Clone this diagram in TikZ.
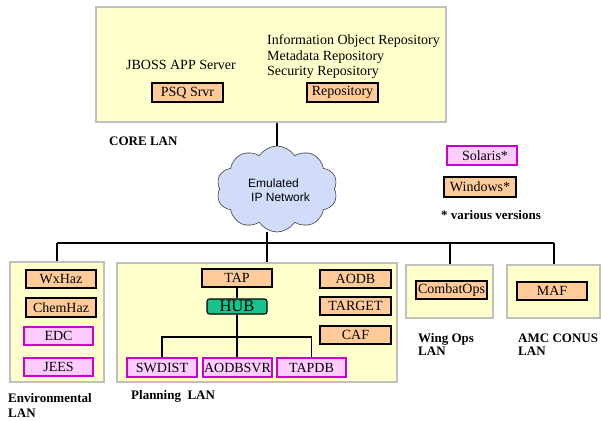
\documentclass[tikz,border=0pt]{standalone}
\usepackage{fontspec}
\setmainfont{Liberation Serif}
\newfontfamily\cloudfont{Liberation Sans}
\usetikzlibrary{shapes.symbols}
\definecolor{lanfill}{HTML}{FFFFCC}
\definecolor{lanedge}{HTML}{C0C0C0}
\definecolor{winfill}{HTML}{FFCC99}
\definecolor{solfill}{HTML}{FFCCFF}
\definecolor{soledge}{HTML}{CC00CC}
\definecolor{hubfill}{HTML}{14C38E}
\definecolor{cloudfill}{HTML}{D0DCFA}
\begin{document}
\begin{tikzpicture}[x=1pt,y=-1pt,
  lanbox/.style={draw=lanedge, fill=lanfill, line width=1.6pt, inner sep=0pt},
  winbox/.style={draw=black, fill=winfill, line width=1.1pt, inner sep=0pt, font=\fontsize{14}{16}\selectfont},
  solbox/.style={draw=soledge, fill=solfill, line width=1.1pt, inner sep=0pt, font=\fontsize{14}{16}\selectfont},
  hubbox/.style={draw=black, fill=hubfill, line width=1.1pt, rounded corners=2.5pt, inner sep=0pt, font=\fontsize{16.5}{18}\selectfont},
  lbl/.style={inner sep=0pt, font=\fontsize{14}{15.5}\selectfont},
  blbl/.style={inner sep=0pt, align=left, anchor=west, font=\bfseries\fontsize{13}{15}\selectfont},
  wire/.style={draw=black, line width=1.4pt}]
\useasboundingbox (0,0) rectangle (601,420);

% CORE LAN
\node[lanbox, minimum width=350pt, minimum height=115pt] (core) at (271,64.5) {};
\node[lbl] (jboss) at (181,65) {JBOSS APP Server};
\node[winbox, minimum width=71pt, minimum height=19pt] (psq) at (187.5,92.5) {PSQ Srvr};
\node[lbl, anchor=west, align=left] (info) at (267,57) {Information Object Repository\\Metadata Repository\\Security Repository};
\node[winbox, minimum width=71pt, minimum height=19pt] (repo) at (342.5,92.5) {Repository};
\node[blbl] (corelan) at (109,141) {CORE LAN};

% cloud
\node[cloud, cloud puffs=10, cloud puff arc=115, aspect=1.4, draw=black!75, fill=cloudfill,
      minimum width=121pt, minimum height=86pt, line width=0.6pt] (net) at (277,189) {};
\node[inner sep=0pt, anchor=west, align=left, font=\cloudfont\fontsize{12}{14}\selectfont] (nettext) at (248,190) {Emulated\\\hspace{3pt}IP Network};
\draw[wire] (net.north |- core.south) -- (net.north);

% legend
\node[solbox, minimum width=70pt, minimum height=19pt] (sol) at (482,155.5) {\hspace{6pt}Solaris*};
\node[winbox, minimum width=72pt, minimum height=20pt] (win) at (480,187) {Windows*};
\node[blbl] (various) at (441,215) {* various versions};

% bus
\coordinate (bus) at (267,243);
\coordinate (bl) at (57,243);
\coordinate (bw) at (450,243);
\coordinate (br) at (554,243);
\draw[wire] (bus |- net.south) -- (bus);
\draw[wire] (bl) -- (br);

% Environmental LAN
\node[lanbox, minimum width=94pt, minimum height=120pt] (env) at (57,322) {};
\node[winbox, minimum width=70pt, minimum height=18pt] (wxhaz) at (61,279) {WxHaz};
\node[winbox, minimum width=70pt, minimum height=19pt] (chemhaz) at (61,307.5) {ChemHaz};
\node[solbox, minimum width=69pt, minimum height=18pt] (edc) at (58.5,336) {EDC};
\node[solbox, minimum width=69pt, minimum height=18pt] (jees) at (58.5,367) {JEES};
\node[blbl] (envlan) at (8,405.5) {Environmental\\LAN};

% Planning LAN
\node[lanbox, minimum width=280pt, minimum height=119pt] (plan) at (257,322.5) {};
\node[winbox, minimum width=70pt, minimum height=18pt] (tap) at (237,278) {TAP};
\node[hubbox, minimum width=60pt, minimum height=15pt] (hub) at (237,306.5) {HUB};
\node[winbox, minimum width=71pt, minimum height=18pt] (aodb) at (355.5,279) {AODB};
\node[winbox, minimum width=71pt, minimum height=18pt] (target) at (355.5,306) {TARGET};
\node[winbox, minimum width=71pt, minimum height=18pt] (caf) at (355.5,335) {CAF};
\node[solbox, minimum width=70pt, minimum height=19pt] (swdist) at (162,367.5) {SWDIST};
\node[solbox, minimum width=69pt, minimum height=19pt] (aodbsvr) at (237.5,367.5) {AODBSVR};
\node[solbox, minimum width=69pt, minimum height=19pt] (tapdb) at (311.5,367.5) {TAPDB};
\node[blbl] (planlan) at (131,396) {Planning~ LAN};
\coordinate (hb) at (237,337);
\draw[wire] (tap) -- (hub);
\draw[wire] (hub.south) -- (hb);
\draw[wire] (swdist.north) |- (hb) -| (tapdb.north);
\draw[wire] (hb) -- (hb |- aodbsvr.north);

% Wing Ops LAN
\node[lanbox, minimum width=87pt, minimum height=53pt] (wing) at (449.5,291.5) {};
\node[winbox, minimum width=71pt, minimum height=18pt] (combat) at (451.5,290) {CombatOps};
\node[blbl, font=\bfseries\fontsize{13}{12.5}\selectfont] (winglan) at (418,344.5) {Wing Ops\\LAN};

% AMC CONUS LAN
\node[lanbox, minimum width=93pt, minimum height=53pt] (amc) at (553.5,291.5) {};
\node[winbox, minimum width=70pt, minimum height=18pt] (maf) at (552,291) {MAF};
\node[blbl, font=\bfseries\fontsize{13}{12.5}\selectfont] (amclan) at (518,344.5) {AMC CONUS\\LAN};

% drops
\draw[wire] (bl) -- (bl |- env.north);
\draw[wire] (bus) -- (bus |- plan.north);
\draw[wire] (bw) -- (bw |- wing.north);
\draw[wire] (br) -- (br |- amc.north);
\end{tikzpicture}
\end{document}
